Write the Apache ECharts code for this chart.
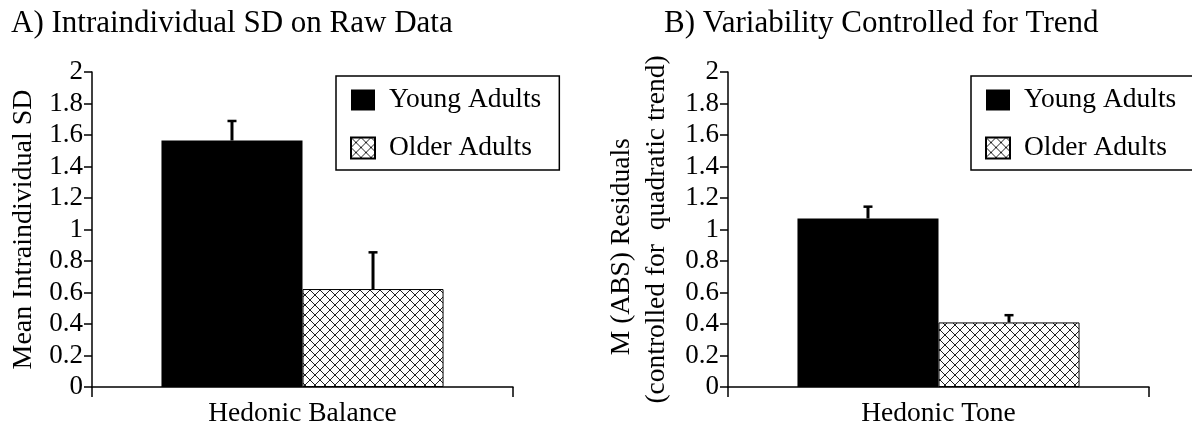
<!DOCTYPE html>
<html>
<head>
<meta charset="utf-8">
<script src="https://cdn.jsdelivr.net/npm/echarts@6/dist/echarts.min.js"></script>
<style>
html,body{margin:0;padding:0;background:#fff;}
#chart{width:1192px;height:429px;}
</style>
</head>
<body>
<div id="chart"></div>
<script>
// ---- data ----
const categoriesA = ['Hedonic Balance'];
const categoriesB = ['Hedonic Tone'];
const seriesNames = ['Young Adults', 'Older Adults'];
const youngA = [1.565];
const olderA = [0.622];
const youngAErr = [0.124];
const olderAErr = [0.233];
const youngB = [1.07];
const olderB = [0.41];
const youngBErr = [0.075];
const olderBErr = [0.046];
const yMin = 0, yMax = 2, yStep = 0.2;
const titleA = 'A) Intraindividual SD on Raw Data';
const titleB = 'B) Variability Controlled for Trend';
const yNameA = 'Mean Intraindividual SD';
const yNameB = 'M (ABS) Residuals     \n(controlled for  quadratic trend)';

// ---- styles ----
const FONT = '"Liberation Serif", "Times New Roman", "DejaVu Serif", serif';
const BAR_FRAC = 0.335;

function hatch() {
  const s = 10;
  const c = document.createElement('canvas');
  c.width = s; c.height = s;
  const g = c.getContext('2d');
  g.fillStyle = '#fff';
  g.fillRect(0, 0, s, s);
  g.strokeStyle = '#222';
  g.lineWidth = 1;
  g.beginPath();
  g.moveTo(-1, -1); g.lineTo(s + 1, s + 1);
  g.moveTo(s + 1, -1); g.lineTo(-1, s + 1);
  g.stroke();
  return c;
}
const hatchFill = { image: hatch(), repeat: 'repeat' };

function errData(cats, means, errs, idx) {
  return cats.map((c, i) => [i, means[i], means[i] + errs[i], idx]);
}

function renderErr(params, api) {
  const cat = api.value(0);
  const mean = api.value(1);
  const up = api.value(2);
  const idx = api.value(3);
  const band = api.size([1, 0])[0];
  const barW = band * BAR_FRAC;
  const base = api.coord([cat, mean]);
  const top = api.coord([cat, up]);
  const x = base[0] + (idx - 0.5) * barW;
  return {
    type: 'group',
    children: [
      { type: 'line', shape: { x1: x, y1: base[1], x2: x, y2: top[1] },
        style: { stroke: '#000', lineWidth: 3 } },
      { type: 'line', shape: { x1: x - 4.5, y1: top[1], x2: x + 4.5, y2: top[1] },
        style: { stroke: '#000', lineWidth: 2.5 } }
    ]
  };
}

function xAxis(cats, gridIndex) {
  return {
    type: 'category', gridIndex, data: cats,
    axisLine: { lineStyle: { color: '#000', width: 1.5 } },
    axisTick: { show: true, length: 10, lineStyle: { color: '#000', width: 1.5 } },
    axisLabel: { color: '#000', fontFamily: FONT, fontSize: 27.5, margin: 13 }
  };
}
function yAxis(name, gridIndex, fs, lh, gap) {
  return {
    type: 'value', gridIndex, min: yMin, max: yMax, interval: yStep,
    name, nameLocation: 'middle', nameGap: gap, nameRotate: 90,
    nameTextStyle: { color: '#000', fontFamily: FONT, fontSize: fs, lineHeight: lh },
    axisLine: { show: true, lineStyle: { color: '#000', width: 1.5 } },
    axisTick: { show: true, length: 8, lineStyle: { color: '#000', width: 1.5 } },
    splitLine: { show: false },
    axisLabel: { color: '#000', fontFamily: FONT, fontSize: 27, margin: 9 }
  };
}
function legend(left) {
  return {
    data: seriesNames, orient: 'vertical', left, top: 76,
    itemWidth: 24, itemHeight: 21, itemGap: 20,
    padding: [10, 18, 8, 14],
    borderColor: '#000', borderWidth: 1.5,
    textStyle: { color: '#000', fontFamily: FONT, fontSize: 27.5, padding: [0, 0, 0, 9] },
    icon: 'rect', selectedMode: false
  };
}

const option = {
  animation: false,
  backgroundColor: '#fff',
  textStyle: { fontFamily: FONT },
  title: [
    { text: titleA, left: 6, top: 3, textStyle: { color: '#000', fontFamily: FONT, fontSize: 31, fontWeight: 'normal' } },
    { text: titleB, left: 659, top: 3, textStyle: { color: '#000', fontFamily: FONT, fontSize: 31, fontWeight: 'normal' } }
  ],
  legend: [legend(336), legend(971)],
  grid: [
    { left: 92, right: 679, top: 72, bottom: 42 },
    { left: 728, right: 43, top: 72, bottom: 42 }
  ],
  xAxis: [xAxis(categoriesA, 0), xAxis(categoriesB, 1)],
  yAxis: [yAxis(yNameA, 0, 28, 28, 54), yAxis(yNameB, 1, 27.5, 35.5, 53)],
  series: [
    { type: 'bar', name: seriesNames[0], xAxisIndex: 0, yAxisIndex: 0, data: youngA,
      barWidth: (BAR_FRAC * 100) + '%', barGap: '0%', itemStyle: { color: '#000' } },
    { type: 'bar', name: seriesNames[1], xAxisIndex: 0, yAxisIndex: 0, data: olderA,
      barWidth: (BAR_FRAC * 100) + '%', barGap: '0%',
      itemStyle: { color: hatchFill, borderColor: '#000', borderWidth: 1 } },
    { type: 'bar', name: seriesNames[0], xAxisIndex: 1, yAxisIndex: 1, data: youngB,
      barWidth: (BAR_FRAC * 100) + '%', barGap: '0%', itemStyle: { color: '#000' } },
    { type: 'bar', name: seriesNames[1], xAxisIndex: 1, yAxisIndex: 1, data: olderB,
      barWidth: (BAR_FRAC * 100) + '%', barGap: '0%',
      itemStyle: { color: hatchFill, borderColor: '#000', borderWidth: 1 } },
    { type: 'custom', xAxisIndex: 0, yAxisIndex: 0, renderItem: renderErr, z: 5,
      data: errData(categoriesA, youngA, youngAErr, 0).concat(errData(categoriesA, olderA, olderAErr, 1)) },
    { type: 'custom', xAxisIndex: 1, yAxisIndex: 1, renderItem: renderErr, z: 5,
      data: errData(categoriesB, youngB, youngBErr, 0).concat(errData(categoriesB, olderB, olderBErr, 1)) }
  ]
};

const chart = echarts.init(document.getElementById('chart'), null, { renderer: 'canvas' });
chart.setOption(option);
</script>
</body>
</html>
